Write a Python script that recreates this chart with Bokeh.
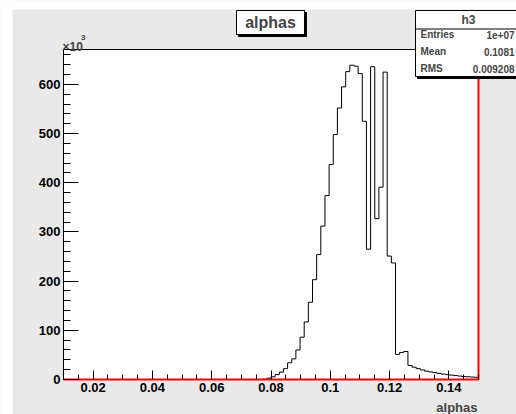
from bokeh.plotting import figure
from bokeh.models import FixedTicker, Label
from bokeh.embed import file_html
from bokeh.resources import INLINE

# ---- data (counts in units of 10^3), 100 bins on [0.01, 0.15] ----
x_min, x_max, n_bins = 0.01, 0.15, 100
counts_k = [
    0, 0, 0, 0, 0, 0, 0, 0, 0, 0,
    0, 0, 0, 0, 0, 0, 0, 0, 0, 0,
    0, 0, 0, 0, 0, 0, 0, 0, 0, 0,
    0, 0, 0, 0, 0, 0, 0, 0, 0, 0,
    0, 0, 0, 0, 0, 0, 0, 0, 0.7, 2.6,
    5.5, 10, 15, 22, 34, 42, 60, 86, 117, 157,
    203, 254, 312, 374, 437, 498, 552, 595, 626, 639,
    637, 622, 525, 265, 636, 327, 391, 625, 251, 237,
    51, 55, 57, 28.5, 25, 22, 19.5, 17, 15.5, 14,
    12.5, 11, 10, 9, 8, 7, 6, 5.5, 5, 4.5,
]
x_ticks = [0.02, 0.04, 0.06, 0.08, 0.10, 0.12, 0.14]
x_tick_labels = ["0.02", "0.04", "0.06", "0.08", "0.1", "0.12", "0.14"]
y_ticks = [0, 100, 200, 300, 400, 500, 600]
y_max = 671
title_text = "alphas"
axis_title = "alphas"
stats_name = "h3"
stats_rows = [("Entries", "1e+07"), ("Mean", "0.1081"), ("RMS", "0.009208")]

bin_w = (x_max - x_min) / n_bins
edges = [x_min + i * bin_w for i in range(n_bins + 1)]

# ---- geometry (page pixels) ----
W, H = 516, 414
FX0, FX1, FY0, FY1 = 63, 478, 49, 379     # frame left, right, top, bottom
CX0, CY0 = 12, 9                           # grey canvas top-left
kx = (FX1 - FX0) / (x_max - x_min)
ky = (FY1 - FY0) / y_max

def dx(X):
    return x_min + (X - FX0) / kx

def dy(Y):
    return (FY1 - Y) / ky

BG = "#e9e9e9"
FONT = "Liberation Sans"

p = figure(width=W, height=H, output_backend="svg", toolbar_location=None,
           x_range=(dx(0), dx(W)), y_range=(dy(H), dy(0)),
           min_border=0)
p.background_fill_color = BG
p.background_fill_alpha = 1.0
p.border_fill_color = BG
p.outline_line_color = None
p.grid.visible = False

# white page margins (top and left) and white frame
p.quad(left=dx(-5), right=dx(W + 5), top=dy(-5), bottom=dy(CY0),
       fill_color="white", line_color=None)
p.quad(left=dx(-5), right=dx(CX0), top=dy(-5), bottom=dy(H + 5),
       fill_color="white", line_color=None)
p.quad(left=x_min, right=x_max, bottom=0, top=y_max,
       fill_color="white", line_color="black", line_width=1)

minor_x = [x_min + 0.005 * i for i in range(29)]
p.xaxis.ticker = FixedTicker(ticks=x_ticks, minor_ticks=minor_x)
p.xaxis.major_label_overrides = {t: l for t, l in zip(x_ticks, x_tick_labels)}
p.yaxis.ticker = FixedTicker(ticks=y_ticks, minor_ticks=list(range(0, 671, 20)))
p.xaxis.fixed_location = 0
p.yaxis.fixed_location = x_min

for ax in (p.xaxis, p.yaxis):
    ax.axis_line_color = None
    ax.major_tick_line_color = "black"
    ax.minor_tick_line_color = "black"
    ax.major_tick_out = 0
    ax.minor_tick_out = 0
    ax.major_label_text_font = FONT
    ax.major_label_text_font_style = "bold"
    ax.major_label_text_font_size = "13px"
    ax.major_label_text_color = "black"
    ax.major_label_standoff = 3
p.xaxis.major_tick_in = 9
p.xaxis.minor_tick_in = 5
p.yaxis.major_tick_in = 15
p.yaxis.minor_tick_in = 7

# histogram outline
p.step(x=edges, y=counts_k + [counts_k[-1]], mode="after",
       line_color="black", line_width=1)

# red lines on bottom and right edges
p.line(x=[x_min, x_max, x_max], y=[0, 0, y_max], line_color="#ff0000", line_width=2)

# axis title (right aligned, below axis)
p.add_layout(Label(x=dx(477), y=dy(407), text=axis_title, text_font=FONT,
                   text_font_style="bold", text_font_size="13px",
                   text_align="right", text_baseline="alphabetic"))
# x10^3 exponent
p.add_layout(Label(x=dx(62), y=dy(46.5), text="×10", text_font=FONT,
                   text_font_style="bold", text_font_size="12px",
                   text_align="left", text_baseline="alphabetic"))
p.add_layout(Label(x=dx(80.5), y=dy(37), text="3", text_font=FONT,
                   text_font_style="bold", text_font_size="8px",
                   text_align="left", text_baseline="alphabetic"))

def box(x0, y0, x1, y1, fill, line):
    p.quad(left=dx(x0), right=dx(x1), top=dy(y0), bottom=dy(y1),
           fill_color=fill, line_color=line, line_width=1)

# title box with shadow
box(238, 12, 306, 36, "black", "black")
box(236, 10, 304, 34, "white", "black")
p.add_layout(Label(x=dx(270), y=dy(22), text=title_text, text_font=FONT,
                   text_font_style="bold", text_font_size="16px",
                   text_align="center", text_baseline="middle"))

# stats box with shadow
box(417, 12, 530, 78, "black", "black")
box(415, 10, 530, 76, "white", "black")
p.line(x=[dx(415), dx(530)], y=[dy(28.5), dy(28.5)], line_color="black", line_width=1)
p.add_layout(Label(x=dx(468), y=dy(19), text=stats_name, text_font=FONT,
                   text_font_style="bold", text_font_size="12px",
                   text_align="center", text_baseline="middle"))
row_y = [34, 51, 68]
for (k, v), yy in zip(stats_rows, row_y):
    p.add_layout(Label(x=dx(420), y=dy(yy), text=k, text_font=FONT,
                       text_font_style="bold", text_font_size="10px",
                       text_align="left", text_baseline="middle"))
    p.add_layout(Label(x=dx(514), y=dy(yy), text=v, text_font=FONT,
                       text_font_style="bold", text_font_size="10px",
                       text_align="right", text_baseline="middle"))

open("out.html", "w").write(file_html(p, INLINE))
